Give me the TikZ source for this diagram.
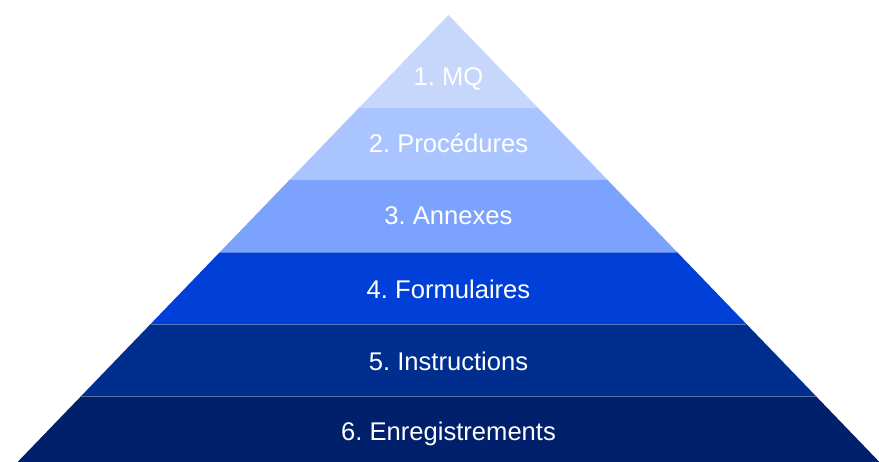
\documentclass[tikz,border=0pt]{standalone}
\usepackage{fontspec}
\setmainfont{Liberation Sans}
\frenchspacing
\definecolor{bandA}{HTML}{C6D7FB}
\definecolor{bandB}{HTML}{AAC4FF}
\definecolor{bandC}{HTML}{7BA3FE}
\definecolor{bandD}{HTML}{0040D8}
\definecolor{bandE}{HTML}{002E8E}
\definecolor{bandF}{HTML}{00206C}
\begin{document}
\begin{tikzpicture}[x=1pt,y=-1pt,
  lbl/.style={text=white,font=\fontsize{25.6}{30}\selectfont,inner sep=0pt,anchor=center},
  sep/.style={draw=white,draw opacity=0.35,line width=1pt}]
\useasboundingbox (0,0) rectangle (879,461);
\clip (0,0) rectangle (879,461);
\fill[bandA] (448.5,15) -- (537.2,107) -- (359.8,107) -- cycle;
\fill[bandB] (359.8,107) -- (537.2,107) -- (606.6,179) -- (290.4,179) -- cycle;
\fill[bandC] (290.4,179) -- (606.6,179) -- (677.0,252) -- (220.0,252) -- cycle;
\fill[bandD] (220.0,252) -- (677.0,252) -- (746.4,324) -- (150.6,324) -- cycle;
\fill[bandE] (150.6,324) -- (746.4,324) -- (815.8,396) -- (81.2,396) -- cycle;
\fill[bandF] (81.2,396) -- (815.8,396) -- (885.2,468) -- (11.8,468) -- cycle;
\coordinate (s1l) at (359.8,107); \coordinate (s1r) at (537.2,107);
\coordinate (s2l) at (290.4,179); \coordinate (s2r) at (606.6,179);
\coordinate (s3l) at (220.0,252); \coordinate (s3r) at (677.0,252);
\coordinate (s4l) at (150.6,324); \coordinate (s4r) at (746.4,324);
\coordinate (s5l) at (81.2,396); \coordinate (s5r) at (815.8,396);
\draw[sep] (s1l) -- (s1r);
\draw[sep] (s2l) -- (s2r);
\draw[sep] (s3l) -- (s3r);
\draw[sep] (s4l) -- (s4r);
\draw[sep] (s5l) -- (s5r);
\node[lbl] (t1) at (448.5,79) {1. MQ};
\node[lbl] (t2) at (448.5,143) {2. Procédures};
\node[lbl] (t3) at (448.5,216) {3. Annexes};
\node[lbl] (t4) at (448.5,289) {4. Formulaires};
\node[lbl] (t5) at (448.5,361) {5. Instructions};
\node[lbl] (t6) at (448.5,434) {6. Enregistrements};
\end{tikzpicture}
\end{document}
